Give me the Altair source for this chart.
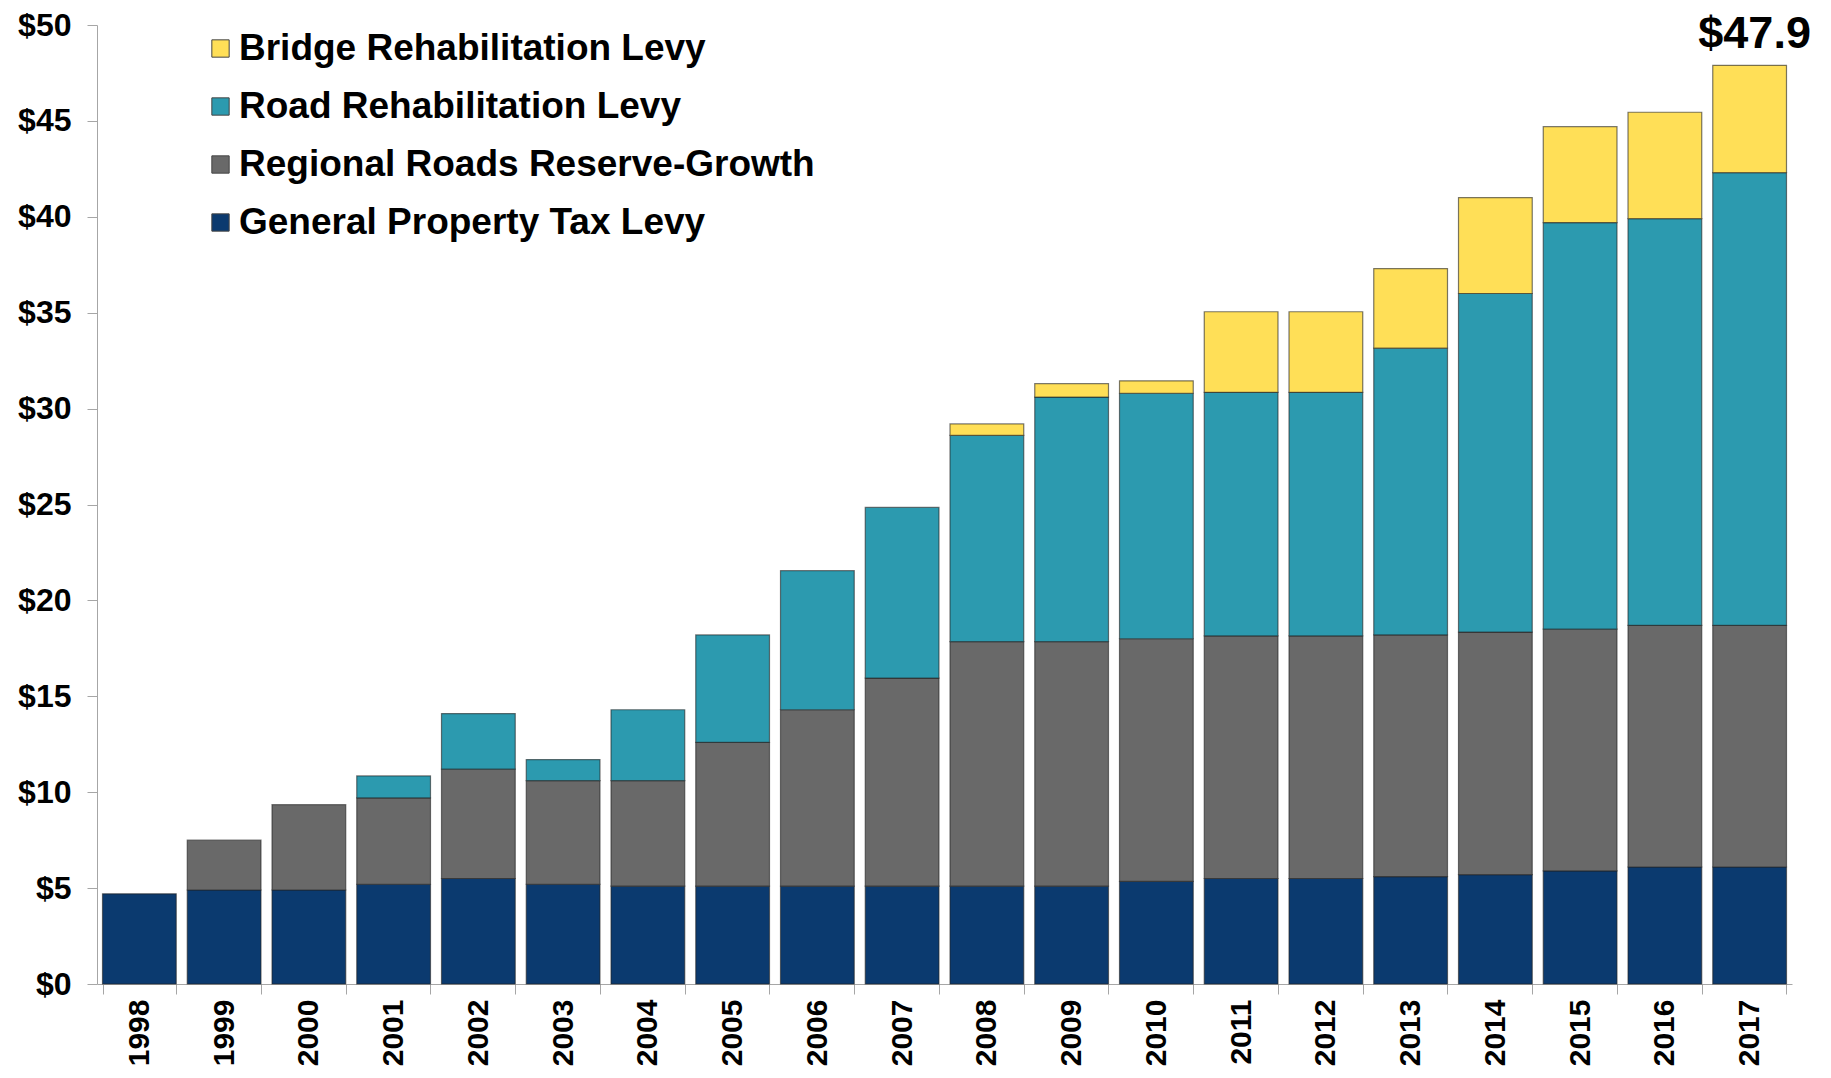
import altair as alt
import pandas as pd

years = [str(y) for y in range(1998, 2018)]
series = ["Bridge Rehabilitation Levy", "Road Rehabilitation Levy",
          "Regional Roads Reserve-Growth", "General Property Tax Levy"]
colors = ["#FFDF57", "#2C9AAF", "#696969", "#0B3A6F"]

general = [4.7, 4.9, 4.9, 5.2, 5.5, 5.2, 5.1, 5.1, 5.1, 5.1, 5.1, 5.1, 5.35, 5.5, 5.5, 5.6, 5.7, 5.9, 6.1, 6.1]
regional = [0, 2.6, 4.45, 4.5, 5.7, 5.4, 5.5, 7.5, 9.2, 10.85, 12.75, 12.75, 12.65, 12.65, 12.65, 12.6, 12.65, 12.6, 12.6, 12.6]
road = [0, 0, 0, 1.15, 2.9, 1.1, 3.7, 5.6, 7.25, 8.9, 10.75, 12.75, 12.8, 12.7, 12.7, 14.95, 17.65, 21.2, 21.2, 23.6]
bridge = [0, 0, 0, 0, 0, 0, 0, 0, 0, 0, 0.6, 0.7, 0.65, 4.2, 4.2, 4.15, 5.0, 5.0, 5.55, 5.6]

y_ticks = list(range(0, 55, 5))

rows = []
for name, vals, order in [(series[3], general, 0), (series[2], regional, 1),
                          (series[1], road, 2), (series[0], bridge, 3)]:
    for yr, v in zip(years, vals):
        if v > 0:
            rows.append({"year": yr, "series": name, "value": v, "order": order})
df = pd.DataFrame(rows)

last_total = general[-1] + regional[-1] + road[-1] + bridge[-1]
lab = pd.DataFrame([{"year": years[-1], "total": last_total, "label": f"${last_total:.1f}"}])

x_enc = alt.X("year:O", title=None,
              scale=alt.Scale(paddingInner=0.13),
              axis=alt.Axis(labelAngle=-90, labelFont="Liberation Sans", labelFontWeight="bold",
                            labelFontSize=30, labelColor="black", tickBand="extent", tickSize=10,
                            tickColor="#a6a6a6", domainColor="#a6a6a6", labelPadding=5))

bars = alt.Chart(df).mark_bar(stroke="#222222", strokeWidth=1.2, strokeOpacity=0.6).encode(
    x=x_enc,
    y=alt.Y("value:Q", stack="zero", title=None,
            scale=alt.Scale(domain=[0, 50], nice=False),
            axis=alt.Axis(values=y_ticks, labelExpr="'$' + datum.value", grid=False,
                          labelFont="Liberation Sans", labelFontWeight="bold",
                          labelFontSize=32, labelColor="black", tickSize=10, labelPadding=16,
                          tickColor="#a6a6a6", domainColor="#a6a6a6")),
    color=alt.Color("series:N", scale=alt.Scale(domain=series, range=colors),
                    legend=alt.Legend(title=None, orient="none", legendX=105, legendY=5,
                                      labelFont="Liberation Sans", labelFontWeight="bold",
                                      labelFontSize=37, labelColor="black", labelLimit=0,
                                      symbolType="square", symbolSize=300, symbolStrokeColor="#444444",
                                      symbolStrokeWidth=1, rowPadding=20, labelOffset=0, padding=0)),
    order=alt.Order("order:Q", sort="ascending"),
)

text = alt.Chart(lab).mark_text(font="Liberation Sans", fontWeight="bold", fontSize=45,
                                baseline="alphabetic", dy=-17, dx=5, color="black").encode(
    x=alt.X("year:O"),
    y=alt.Y("total:Q"),
    text="label:N",
)

chart = alt.layer(bars, text).properties(
    width=1695, height=959,
    padding={"left": 89, "top": 17, "right": 30, "bottom": 82},
    autosize=alt.AutoSizeParams(type="none"),
).configure_view(stroke=None)

chart.save("out.html", embed_options={"renderer": "svg", "actions": False})
